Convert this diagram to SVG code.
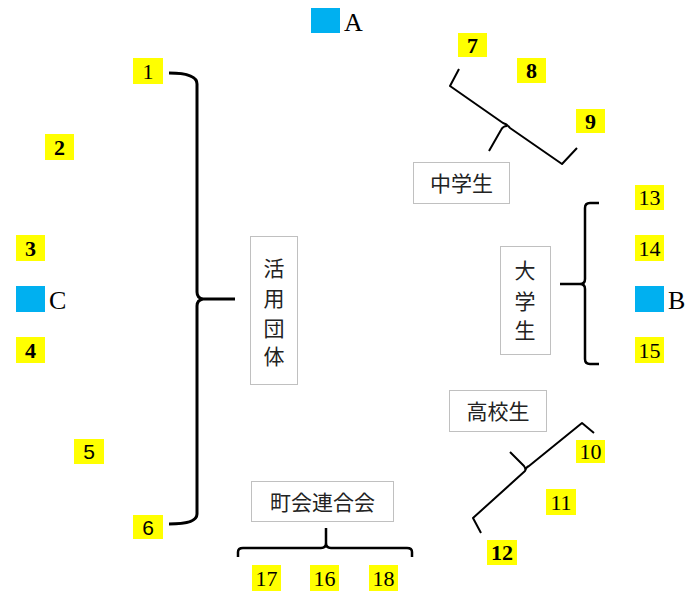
<svg xmlns="http://www.w3.org/2000/svg" width="686" height="591" viewBox="0 0 686 591">
<style>
.lb{fill:#ffff00}
.sq{fill:#00b0f0}
.n{font-family:"Liberation Serif",serif;font-size:22px;fill:#000;text-anchor:middle}
.b{font-weight:bold}
.s{font-family:"Liberation Sans",sans-serif;font-size:21px}
.L{font-family:"Liberation Serif",serif;font-size:26px;fill:#000}
.box{fill:#fff;stroke:#c0c0c0;stroke-width:1}
.j{font-family:"Noto Sans CJK JP",sans-serif;font-size:21px;fill:#222;text-anchor:middle}
.br{fill:none;stroke:#000;stroke-linecap:butt;stroke-linejoin:round}
</style>
<rect width="686" height="591" fill="#fff"/>
<g id="connectors">
<path class="br" stroke-width="3" d="M169,73 Q197,73 197,84 L197,292 Q197,298 203,299 Q197,300 197,306 L197,514 Q197,524 169,524 M203,299 L235,299"/>
<path class="br" stroke-width="2.5" d="M599,203 L590,203 Q585,203 585,208 L585,279 Q585,284 580,284 Q585,284 585,289 L585,359 Q585,364 590,364 L599,364 M560,284 L580,284"/>
<path class="br" stroke-width="2.5" d="M238,557 L238,552 Q238,548 243,548 L321,548 Q326,548 326,543 Q326,548 331,548 L407,548 Q412,548 412,552 L412,557 M326,528 L326,543"/>
<path class="br" stroke-width="2" d="M459,69 L450,86 L503,123 Q507,124 510,128 L562,164 L577,148 M489,151 L501,130 Q503,126 507,126"/>
<path class="br" stroke-width="2" d="M594,433 L582,423 L529,466 Q526,467 525,471 L473,518 L481,533 M510,452 L524,466 Q526,469 525,471"/>
</g>
<g id="A"><rect class="sq" x="311" y="8" width="29" height="25"/><text class="L" x="344" y="31">A</text></g>
<g id="B"><rect class="sq" x="635" y="286" width="29" height="26"/><text class="L" x="668" y="309">B</text></g>
<g id="C"><rect class="sq" x="16" y="286" width="29" height="26"/><text class="L" x="49" y="309">C</text></g>
<g id="n1"><rect class="lb" x="133" y="58" width="30" height="26"/><text class="n" x="148" y="78.5">1</text></g>
<g id="n2"><rect class="lb" x="45" y="134" width="29" height="26"/><text class="n b" x="59.5" y="154.5">2</text></g>
<g id="n3"><rect class="lb" x="16" y="235" width="29" height="26"/><text class="n b" x="30.5" y="255.5">3</text></g>
<g id="n4"><rect class="lb" x="16" y="337" width="29" height="26"/><text class="n b" x="30.5" y="357.5">4</text></g>
<g id="n5"><rect class="lb" x="74" y="439" width="30" height="25"/><text class="n s" x="89" y="459">5</text></g>
<g id="n6"><rect class="lb" x="133" y="515" width="30" height="24"/><text class="n s" x="148" y="534.5">6</text></g>
<g id="n7"><rect class="lb" x="458" y="33" width="29" height="24"/><text class="n b" x="472.5" y="52.5">7</text></g>
<g id="n8"><rect class="lb" x="517" y="58" width="29" height="25"/><text class="n b" x="531.5" y="78">8</text></g>
<g id="n9"><rect class="lb" x="576" y="109" width="29" height="24"/><text class="n b" x="590.5" y="128.5">9</text></g>
<g id="n10"><rect class="lb" x="576" y="440" width="29" height="23"/><text class="n" x="590.5" y="459">10</text></g>
<g id="n11"><rect class="lb" x="546" y="489" width="30" height="26"/><text class="n" x="561" y="509.5">11</text></g>
<g id="n12"><rect class="lb" x="487" y="540" width="30" height="25"/><text class="n b" x="502" y="560">12</text></g>
<g id="n13"><rect class="lb" x="635" y="185" width="29" height="25"/><text class="n" x="649.5" y="205">13</text></g>
<g id="n14"><rect class="lb" x="635" y="235" width="29" height="26"/><text class="n" x="649.5" y="255.5">14</text></g>
<g id="n15"><rect class="lb" x="635" y="337" width="29" height="26"/><text class="n" x="649.5" y="357.5">15</text></g>
<g id="n16"><rect class="lb" x="310" y="565" width="29" height="26"/><text class="n" x="324.5" y="585.5">16</text></g>
<g id="n17"><rect class="lb" x="252" y="565" width="29" height="26"/><text class="n" x="266.5" y="585.5">17</text></g>
<g id="n18"><rect class="lb" x="369" y="565" width="29" height="26"/><text class="n" x="383.5" y="585.5">18</text></g>
<g id="katsuyo"><rect class="box" x="250.5" y="236.5" width="47" height="148"/>
<text class="j" x="274" y="276">活</text><text class="j" x="274" y="306">用</text><text class="j" x="274" y="336">団</text><text class="j" x="274" y="364">体</text></g>
<g id="daigaku"><rect class="box" x="500.5" y="246.5" width="50" height="108"/>
<text class="j" x="525" y="278">大</text><text class="j" x="525" y="309">学</text><text class="j" x="525" y="338">生</text></g>
<g id="chugaku"><rect class="box" x="413.5" y="162.5" width="96" height="41"/><text class="j" x="461.5" y="191">中学生</text></g>
<g id="koko"><rect class="box" x="449.5" y="390.5" width="97" height="41"/><text class="j" x="498" y="419">高校生</text></g>
<g id="chokai"><rect class="box" x="251.5" y="481.5" width="142" height="40"/><text class="j" x="322.5" y="510">町会連合会</text></g>
</svg>
